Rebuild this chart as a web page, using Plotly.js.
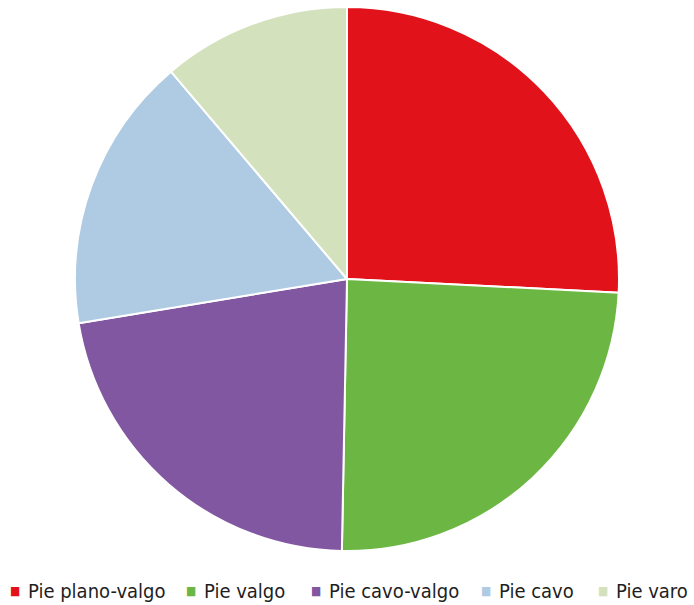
<!DOCTYPE html>
<html>
<head>
<meta charset="utf-8">
<script src="https://cdn.plot.ly/plotly-3.0.1.min.js"></script>
<style>html,body{margin:0;padding:0;background:#fff;}#chart{width:694px;height:605px;}</style>
</head>
<body>
<div id="chart"></div>
<script>
var categories = ["Pie plano-valgo", "Pie valgo", "Pie cavo-valgo", "Pie cavo", "Pie varo"];
var values = [25.8, 24.5, 22.1, 16.4, 11.2];
var colors = ["#E2121A", "#6CB644", "#8057A0", "#AFCBE3", "#D3E2BC"];

var W = 694, H = 605;
var margin = {l: 0, r: 0, t: 7, b: 54};
var plotH = H - margin.t - margin.b;

var trace = {
  type: "pie",
  labels: categories,
  values: values,
  sort: false,
  direction: "clockwise",
  rotation: 0,
  textinfo: "none",
  hoverinfo: "label+percent",
  marker: {colors: colors, line: {color: "#ffffff", width: 2}}
};

// Legend drawn as text annotations (one swatch glyph + one label per category)
var legendTextX = [27, 203, 328, 498, 615];
var legendY = 591;
var fontFam = "'DejaVu Sans Condensed', 'DejaVu Sans', sans-serif";
var annotations = [];
categories.forEach(function (c, i) {
  var yPaper = (H - margin.b - legendY) / plotH;
  annotations.push({
    xref: "paper", yref: "paper",
    x: (legendTextX[i] - 6) / W, y: yPaper,
    xanchor: "right", yanchor: "middle",
    text: "\u25A0", showarrow: false, borderpad: 0,
    font: {family: fontFam, size: 12, color: colors[i]}
  });
  annotations.push({
    xref: "paper", yref: "paper",
    x: legendTextX[i] / W, y: yPaper,
    xanchor: "left", yanchor: "middle",
    text: c, showarrow: false, borderpad: 0,
    font: {family: fontFam, size: 20, color: "#1e1e1e"}
  });
});

var layout = {
  width: W,
  height: H,
  margin: margin,
  paper_bgcolor: "#ffffff",
  showlegend: false,
  annotations: annotations
};

Plotly.newPlot("chart", [trace], layout, {displayModeBar: false, staticPlot: true});
</script>
</body>
</html>
